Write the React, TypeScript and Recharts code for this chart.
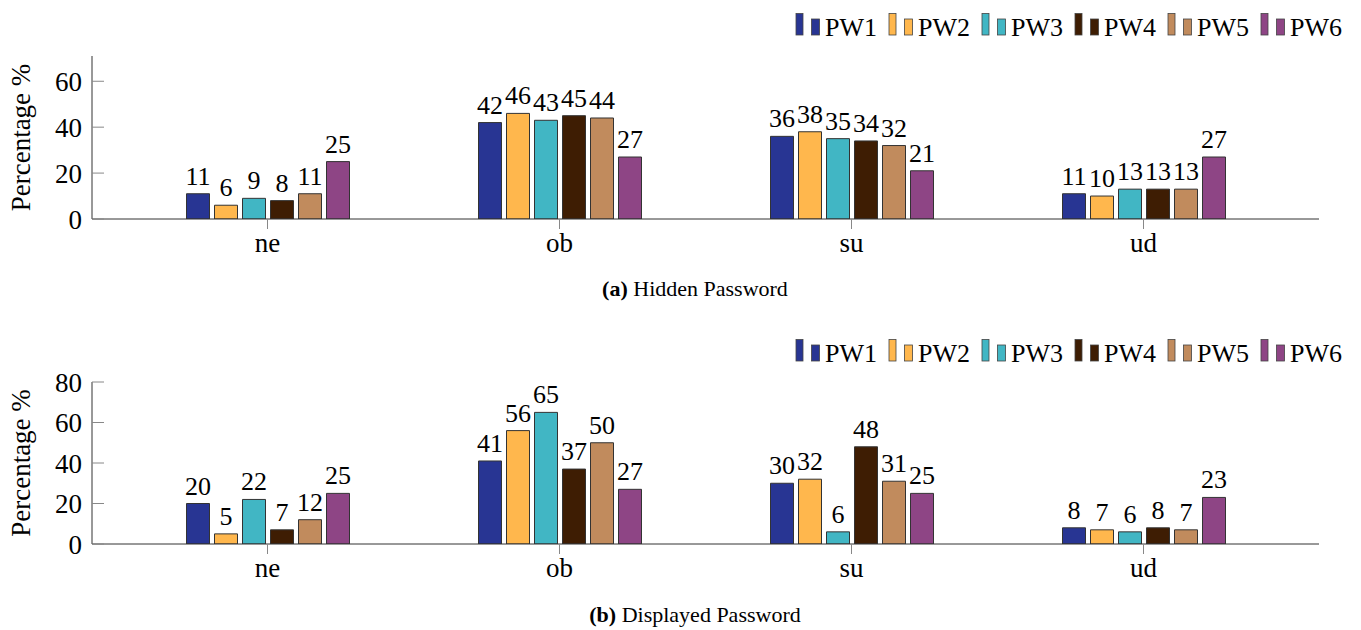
import React from 'react';
import { BarChart, Bar, XAxis, YAxis, LabelList } from 'recharts';

const FONT = '"Liberation Serif", "DejaVu Serif", serif';

const categories = ['ne', 'ob', 'su', 'ud'];
const seriesNames = ['PW1', 'PW2', 'PW3', 'PW4', 'PW5', 'PW6'];
const seriesColors = ['#283593', '#FFB74D', '#41B6C4', '#3E1D03', '#C18B5D', '#8E4585'];

// (a) Hidden Password
const hiddenPW1 = [11, 42, 36, 11];
const hiddenPW2 = [6, 46, 38, 10];
const hiddenPW3 = [9, 43, 35, 13];
const hiddenPW4 = [8, 45, 34, 13];
const hiddenPW5 = [11, 44, 32, 13];
const hiddenPW6 = [25, 27, 21, 27];
const hiddenYTicks = [0, 20, 40, 60];

// (b) Displayed Password
const displayedPW1 = [20, 41, 30, 8];
const displayedPW2 = [5, 56, 32, 7];
const displayedPW3 = [22, 65, 6, 6];
const displayedPW4 = [7, 37, 48, 8];
const displayedPW5 = [12, 50, 31, 7];
const displayedPW6 = [25, 27, 25, 23];
const displayedYTicks = [0, 20, 40, 60, 80];

const buildRows = (series: number[][]) =>
  categories.map((cat, i) => {
    const row: Record<string, string | number> = { cat };
    seriesNames.forEach((name, s) => {
      row[name] = series[s][i];
    });
    return row;
  });

const hiddenRows = buildRows([hiddenPW1, hiddenPW2, hiddenPW3, hiddenPW4, hiddenPW5, hiddenPW6]);
const displayedRows = buildRows([
  displayedPW1, displayedPW2, displayedPW3, displayedPW4, displayedPW5, displayedPW6,
]);

interface SubProps {
  top: number;
  height: number;
  plotTop: number;
  plotBottom: number;
  rows: Record<string, string | number>[];
  yMax: number;
  yTicks: number[];
  tag: string;
  caption: string;
}

function Legend() {
  return (
    <g>
      {seriesNames.map((name, i) => {
        const x = 796 + i * 93;
        return (
          <g key={name}>
            <rect x={x} y={13.5} width={7} height={21.5} fill={seriesColors[i]} stroke="#444" strokeWidth={0.8} />
            <rect x={x + 15.5} y={19} width={8} height={16} fill={seriesColors[i]} stroke="#444" strokeWidth={0.8} />
            <text x={x + 29} y={36} fontSize={26} fontFamily={FONT} fill="#000">
              {name}
            </text>
          </g>
        );
      })}
    </g>
  );
}

function SubFigure({ top, height, plotTop, plotBottom, rows, yMax, yTicks, tag, caption }: SubProps) {
  const xAxisHeight = 40;
  const axisStroke = { stroke: '#333' };
  const tickStroke = { stroke: '#888' };
  return (
    <div style={{ position: 'absolute', left: 0, top, width: 1361, height }}>
      <BarChart
        width={1361}
        height={height}
        data={rows}
        margin={{ top: plotTop, left: 0, right: 42, bottom: height - plotBottom - xAxisHeight }}
        barSize={23}
        barGap={5}
      >
        <XAxis
          dataKey="cat"
          height={xAxisHeight}
          padding={{ left: 29.5, right: 29.5 }}
          axisLine={axisStroke}
          tickLine={tickStroke}
          tickSize={10}
          tickMargin={4}
          tick={{ fontSize: 27, fill: '#000', fontFamily: FONT }}
        />
        <XAxis
          xAxisId="t"
          dataKey="cat"
          orientation="top"
          height={0}
          padding={{ left: 29.5, right: 29.5 }}
          axisLine={axisStroke}
          tickLine={tickStroke}
          tickSize={10}
          tick={false}
        />
        <YAxis
          type="number"
          width={92}
          domain={[0, yMax]}
          ticks={yTicks}
          allowDataOverflow
          axisLine={axisStroke}
          tickLine={tickStroke}
          tickSize={-12}
          tickMargin={22}
          tick={{ fontSize: 27, fill: '#000', fontFamily: FONT }}
        />
        <YAxis
          yAxisId="r"
          type="number"
          orientation="right"
          width={0}
          domain={[0, yMax]}
          ticks={yTicks}
          allowDataOverflow
          axisLine={axisStroke}
          tickLine={tickStroke}
          tickSize={-12}
          tick={false}
        />
        {seriesNames.map((name, i) => (
          <Bar
            key={name}
            dataKey={name}
            fill={seriesColors[i]}
            stroke="#333"
            strokeWidth={1}
            isAnimationActive={false}
          >
            <LabelList
              dataKey={name}
              position="top"
              offset={9}
              fontSize={26}
              fontFamily={FONT}
              fill="#000"
            />
          </Bar>
        ))}
      </BarChart>
      <svg
        width={1361}
        height={height}
        style={{ position: 'absolute', left: 0, top: 0, pointerEvents: 'none' }}
      >
        <Legend />
        <text
          transform={`translate(30, ${(plotTop + plotBottom) / 2}) rotate(-90)`}
          textAnchor="middle"
          fontSize={27}
          fontFamily={FONT}
          fill="#000"
        >
          Percentage %
        </text>
        <text x={695} y={296} textAnchor="middle" fontSize={22} fontFamily={FONT} fill="#000">
          <tspan fontWeight="bold">{tag}</tspan> {caption}
        </text>
      </svg>
    </div>
  );
}

export default function App() {
  return (
    <div style={{ position: 'absolute', left: 0, top: 0, width: 1361, height: 630, background: '#fff' }}>
      <SubFigure
        top={0}
        height={326}
        plotTop={56}
        plotBottom={219}
        rows={hiddenRows}
        yMax={71}
        yTicks={hiddenYTicks}
        tag="(a)"
        caption="Hidden Password"
      />
      <SubFigure
        top={326}
        height={304}
        plotTop={56}
        plotBottom={218}
        rows={displayedRows}
        yMax={80}
        yTicks={displayedYTicks}
        tag="(b)"
        caption="Displayed Password"
      />
    </div>
  );
}
